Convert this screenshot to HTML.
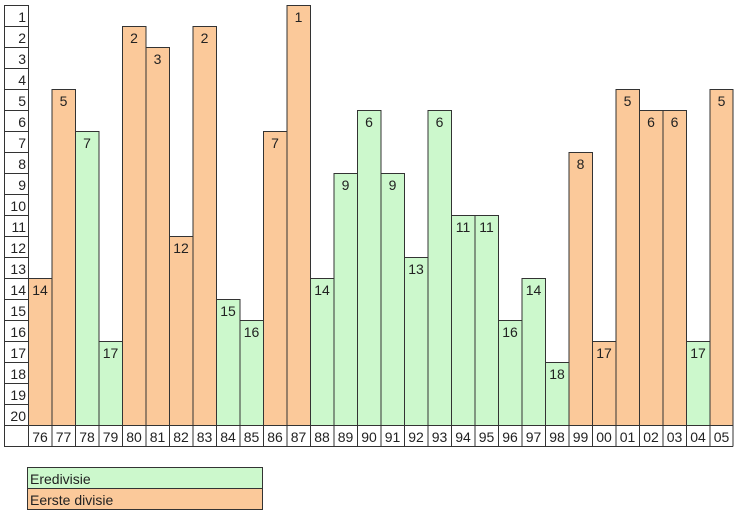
<!DOCTYPE html><html><head><meta charset="utf-8"><style>body{margin:0;background:#fff}svg{display:block}text{font-family:"Liberation Sans",Arial,sans-serif;font-size:14px;fill:#222}</style></head><body>
<svg width="735" height="512" xmlns="http://www.w3.org/2000/svg">
<g stroke="#333" stroke-width="1" fill="none">
<rect x="4.5" y="5.5" width="24" height="441"/>
<path d="M4.5 26.5H28.5M4.5 47.5H28.5M4.5 68.5H28.5M4.5 89.5H28.5M4.5 110.5H28.5M4.5 131.5H28.5M4.5 152.5H28.5M4.5 173.5H28.5M4.5 194.5H28.5M4.5 215.5H28.5M4.5 236.5H28.5M4.5 257.5H28.5M4.5 278.5H28.5M4.5 299.5H28.5M4.5 320.5H28.5M4.5 341.5H28.5M4.5 362.5H28.5M4.5 383.5H28.5M4.5 404.5H28.5M4.5 425.5H28.5"/>
</g>
<g text-anchor="end">
<text x="26" y="22">1</text><text x="26" y="43">2</text><text x="26" y="64">3</text><text x="26" y="85">4</text><text x="26" y="106">5</text><text x="26" y="127">6</text><text x="26" y="148">7</text><text x="26" y="169">8</text><text x="26" y="190">9</text><text x="26" y="211">10</text><text x="26" y="232">11</text><text x="26" y="253">12</text><text x="26" y="274">13</text><text x="26" y="295">14</text><text x="26" y="316">15</text><text x="26" y="337">16</text><text x="26" y="358">17</text><text x="26" y="379">18</text><text x="26" y="400">19</text><text x="26" y="421">20</text>
</g>
<g stroke="#333" stroke-width="1">
<rect x="28.5" y="278.5" width="23.5" height="147" fill="#fbc99a"/>
<rect x="52" y="89.5" width="23.5" height="336" fill="#fbc99a"/>
<rect x="75.5" y="131.5" width="23.5" height="294" fill="#ccf8cc"/>
<rect x="99" y="341.5" width="23.5" height="84" fill="#ccf8cc"/>
<rect x="122.5" y="26.5" width="23.5" height="399" fill="#fbc99a"/>
<rect x="146" y="47.5" width="23.5" height="378" fill="#fbc99a"/>
<rect x="169.5" y="236.5" width="23.5" height="189" fill="#fbc99a"/>
<rect x="193" y="26.5" width="23.5" height="399" fill="#fbc99a"/>
<rect x="216.5" y="299.5" width="23.5" height="126" fill="#ccf8cc"/>
<rect x="240" y="320.5" width="23.5" height="105" fill="#ccf8cc"/>
<rect x="263.5" y="131.5" width="23.5" height="294" fill="#fbc99a"/>
<rect x="287" y="5.5" width="23.5" height="420" fill="#fbc99a"/>
<rect x="310.5" y="278.5" width="23.5" height="147" fill="#ccf8cc"/>
<rect x="334" y="173.5" width="23.5" height="252" fill="#ccf8cc"/>
<rect x="357.5" y="110.5" width="23.5" height="315" fill="#ccf8cc"/>
<rect x="381" y="173.5" width="23.5" height="252" fill="#ccf8cc"/>
<rect x="404.5" y="257.5" width="23.5" height="168" fill="#ccf8cc"/>
<rect x="428" y="110.5" width="23.5" height="315" fill="#ccf8cc"/>
<rect x="451.5" y="215.5" width="23.5" height="210" fill="#ccf8cc"/>
<rect x="475" y="215.5" width="23.5" height="210" fill="#ccf8cc"/>
<rect x="498.5" y="320.5" width="23.5" height="105" fill="#ccf8cc"/>
<rect x="522" y="278.5" width="23.5" height="147" fill="#ccf8cc"/>
<rect x="545.5" y="362.5" width="23.5" height="63" fill="#ccf8cc"/>
<rect x="569" y="152.5" width="23.5" height="273" fill="#fbc99a"/>
<rect x="592.5" y="341.5" width="23.5" height="84" fill="#fbc99a"/>
<rect x="616" y="89.5" width="23.5" height="336" fill="#fbc99a"/>
<rect x="639.5" y="110.5" width="23.5" height="315" fill="#fbc99a"/>
<rect x="663" y="110.5" width="23.5" height="315" fill="#fbc99a"/>
<rect x="686.5" y="341.5" width="23.5" height="84" fill="#ccf8cc"/>
<rect x="710" y="89.5" width="23" height="336" fill="#fbc99a"/>
</g>
<g text-anchor="middle">
<text x="40" y="295">14</text><text x="63.5" y="106">5</text><text x="87" y="148">7</text><text x="110.5" y="358">17</text><text x="134" y="43">2</text><text x="157.5" y="64">3</text><text x="181" y="253">12</text><text x="204.5" y="43">2</text><text x="228" y="316">15</text><text x="251.5" y="337">16</text><text x="275" y="148">7</text><text x="298.5" y="22">1</text><text x="322" y="295">14</text><text x="345.5" y="190">9</text><text x="369" y="127">6</text><text x="392.5" y="190">9</text><text x="416" y="274">13</text><text x="439.5" y="127">6</text><text x="463" y="232">11</text><text x="486.5" y="232">11</text><text x="510" y="337">16</text><text x="533.5" y="295">14</text><text x="557" y="379">18</text><text x="580.5" y="169">8</text><text x="604" y="358">17</text><text x="627.5" y="106">5</text><text x="651" y="127">6</text><text x="674.5" y="127">6</text><text x="698" y="358">17</text><text x="721.5" y="106">5</text>
</g>
<g stroke="#333" stroke-width="1" fill="none">
<path d="M28.5 446.5H733M52 425.5V446.5M75.5 425.5V446.5M99 425.5V446.5M122.5 425.5V446.5M146 425.5V446.5M169.5 425.5V446.5M193 425.5V446.5M216.5 425.5V446.5M240 425.5V446.5M263.5 425.5V446.5M287 425.5V446.5M310.5 425.5V446.5M334 425.5V446.5M357.5 425.5V446.5M381 425.5V446.5M404.5 425.5V446.5M428 425.5V446.5M451.5 425.5V446.5M475 425.5V446.5M498.5 425.5V446.5M522 425.5V446.5M545.5 425.5V446.5M569 425.5V446.5M592.5 425.5V446.5M616 425.5V446.5M639.5 425.5V446.5M663 425.5V446.5M686.5 425.5V446.5M710 425.5V446.5M733 425.5V446.5"/>
</g>
<g text-anchor="middle">
<text x="40" y="442">76</text><text x="63.5" y="442">77</text><text x="87" y="442">78</text><text x="110.5" y="442">79</text><text x="134" y="442">80</text><text x="157.5" y="442">81</text><text x="181" y="442">82</text><text x="204.5" y="442">83</text><text x="228" y="442">84</text><text x="251.5" y="442">85</text><text x="275" y="442">86</text><text x="298.5" y="442">87</text><text x="322" y="442">88</text><text x="345.5" y="442">89</text><text x="369" y="442">90</text><text x="392.5" y="442">91</text><text x="416" y="442">92</text><text x="439.5" y="442">93</text><text x="463" y="442">94</text><text x="486.5" y="442">95</text><text x="510" y="442">96</text><text x="533.5" y="442">97</text><text x="557" y="442">98</text><text x="580.5" y="442">99</text><text x="604" y="442">00</text><text x="627.5" y="442">01</text><text x="651" y="442">02</text><text x="674.5" y="442">03</text><text x="698" y="442">04</text><text x="721.5" y="442">05</text>
</g>
<rect x="27.5" y="467.5" width="235" height="21" fill="#ccf8cc" stroke="#333"/>
<rect x="27.5" y="488.5" width="235" height="21" fill="#fbc99a" stroke="#333"/>
<text x="30" y="484">Eredivisie</text>
<text x="30" y="505">Eerste divisie</text>
</svg>
</body></html>
